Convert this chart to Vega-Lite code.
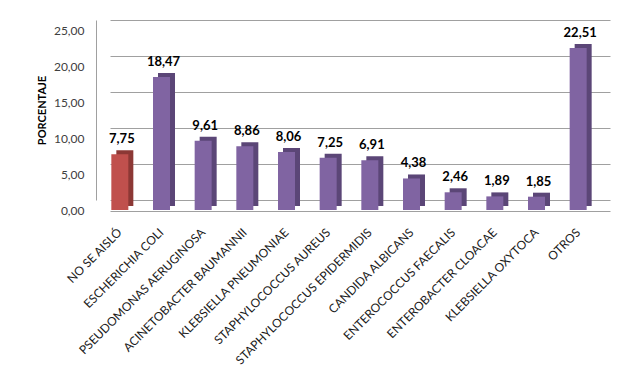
{
  "$schema": "https://vega.github.io/schema/vega-lite/v6.json",
  "width": 500,
  "height": 180,
  "autosize": "none",
  "padding": {"left": 110, "top": 20, "right": 33, "bottom": 179},
  "background": "white",
  "config": {
    "view": {"stroke": null},
    "font": "Lato",
    "locale": {"number": {"decimal": ",", "thousands": ".", "grouping": [3], "currency": ["", " €"]}}
  },
  "data": {
    "values": [
      {"organismo": "NO SE AISLÓ", "porcentaje": 7.75, "grupo": "a"},
      {"organismo": "ESCHERICHIA COLI", "porcentaje": 18.47, "grupo": "b"},
      {"organismo": "PSEUDOMONAS AERUGINOSA", "porcentaje": 9.61, "grupo": "b"},
      {"organismo": "ACINETOBACTER BAUMANNII", "porcentaje": 8.86, "grupo": "b"},
      {"organismo": "KLEBSIELLA PNEUMONIAE", "porcentaje": 8.06, "grupo": "b"},
      {"organismo": "STAPHYLOCOCCUS AUREUS", "porcentaje": 7.25, "grupo": "b"},
      {"organismo": "STAPHYLOCOCCUS EPIDERMIDIS", "porcentaje": 6.91, "grupo": "b"},
      {"organismo": "CANDIDA ALBICANS", "porcentaje": 4.38, "grupo": "b"},
      {"organismo": "ENTEROCOCCUS FAECALIS", "porcentaje": 2.46, "grupo": "b"},
      {"organismo": "ENTEROBACTER CLOACAE", "porcentaje": 1.89, "grupo": "b"},
      {"organismo": "KLEBSIELLA OXYTOCA", "porcentaje": 1.85, "grupo": "b"},
      {"organismo": "OTROS", "porcentaje": 22.51, "grupo": "b"}
    ]
  },
  "encoding": {
    "x": {
      "field": "organismo",
      "type": "nominal",
      "sort": null,
      "scale": {"paddingInner": 0, "paddingOuter": 0},
      "axis": {
        "title": null,
        "offset": 11,
        "labelOffset": -11,
        "labelAngle": -45,
        "labelAlign": "right",
        "labelBaseline": "middle",
        "labelPadding": 19,
        "labelFontSize": 12,
        "labelColor": "#1a1a1a",
        "labelLimit": 300,
        "labelOverlap": false,
        "ticks": false,
        "domainColor": "#a0a0a0",
        "grid": false
      }
    },
    "y": {
      "field": "porcentaje",
      "type": "quantitative",
      "scale": {"domain": [0, 25], "nice": false},
      "axis": {
        "title": "PORCENTAJE",
        "titleFontSize": 11,
        "titleFontWeight": "bold",
        "titleColor": "#000000",
        "titlePadding": 6,
        "values": [0, 5, 10, 15, 20, 25],
        "format": ".2f",
        "offset": 14,
        "labelOffset": 10,
        "labelFontSize": 12,
        "labelColor": "#404040",
        "labelPadding": 12,
        "labelOverlap": false,
        "ticks": false,
        "domainColor": "#a0a0a0",
        "grid": true,
        "gridColor": "#a0a0a0",
        "gridOpacity": 1,
        "gridWidth": 1
      }
    }
  },
  "layer": [
    {
      "mark": {"type": "bar", "size": 17, "xOffset": -6, "yOffset": 6},
      "encoding": {
        "color": {
          "field": "grupo",
          "type": "nominal",
          "scale": {"domain": ["a", "b"], "range": ["#8c3835", "#5b4677"]},
          "legend": null
        }
      }
    },
    {
      "mark": {"type": "bar", "size": 17, "xOffset": -11, "yOffset": 10},
      "encoding": {
        "color": {
          "field": "grupo",
          "type": "nominal",
          "scale": {"domain": ["a", "b"], "range": ["#c0504d", "#8064a2"]},
          "legend": null
        }
      }
    },
    {
      "mark": {"type": "text", "dy": -1, "dx": -9, "baseline": "alphabetic", "fontWeight": "bold", "fontSize": 13, "color": "#000000"},
      "encoding": {
        "text": {"field": "porcentaje", "type": "quantitative", "format": ".2f"}
      }
    }
  ],
  "resolve": {"scale": {"color": "independent"}}
}
